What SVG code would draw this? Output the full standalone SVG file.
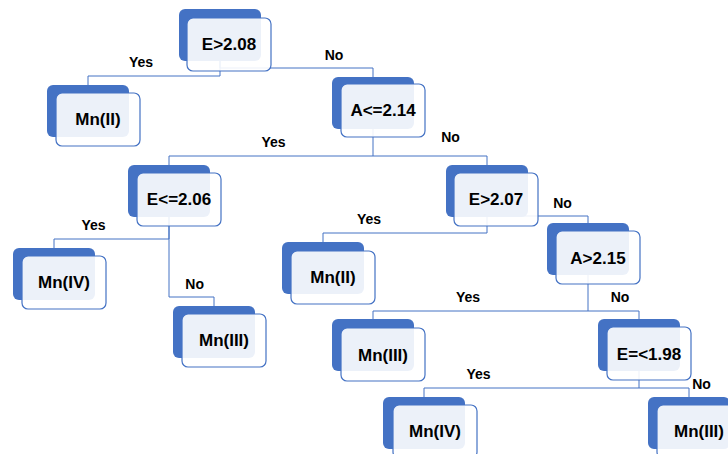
<svg xmlns="http://www.w3.org/2000/svg" width="728" height="454" viewBox="0 0 728 454">
<style>
.back{fill:#4472C4}
.front{fill:#fff;fill-opacity:0.9;stroke:#4472C4;stroke-width:1.2}
.t{font-family:"Liberation Sans",Arial,sans-serif;font-weight:bold;font-size:17px;fill:#000;text-anchor:middle}
.l{font-family:"Liberation Sans",Arial,sans-serif;font-weight:bold;font-size:14px;fill:#000;text-anchor:middle}
.c{fill:none;stroke:#4472C4;stroke-width:1}
</style>
<rect width="728" height="454" fill="#fff"/>
<g id="connectors">
<path class="c" d="M220 61V76H88V85"/>
<path class="c" d="M220 61V68H373V77"/>
<path class="c" d="M373 129V156H169V165M373 156H487V165"/>
<path class="c" d="M169 217V239H54V248"/>
<path class="c" d="M169 217V297H214V306"/>
<path class="c" d="M487 217V233H323V242"/>
<path class="c" d="M487 216H588V223"/>
<path class="c" d="M588 275V311H373V319M588 311H639V319"/>
<path class="c" d="M639 371V388H424V397M639 388H689V397"/>
</g>
<g id="labels">
<text class="l" x="141" y="67">Yes</text>
<text class="l" x="334" y="60">No</text>
<text class="l" x="273.5" y="147">Yes</text>
<text class="l" x="450.5" y="142">No</text>
<text class="l" x="93.5" y="230">Yes</text>
<text class="l" x="194.7" y="289">No</text>
<text class="l" x="369" y="224">Yes</text>
<text class="l" x="562.5" y="208">No</text>
<text class="l" x="468" y="302">Yes</text>
<text class="l" x="620" y="302">No</text>
<text class="l" x="478.5" y="379">Yes</text>
<text class="l" x="701.5" y="389">No</text>
</g>
<g id="n1"><rect class="back" x="179" y="9" width="82" height="52" rx="6"/><rect class="front" x="187" y="18" width="84" height="53" rx="6"/><text class="t" x="229" y="50">E&gt;2.08</text></g>
<g id="n2"><rect class="back" x="47" y="85" width="82" height="52" rx="6"/><rect class="front" x="56" y="93" width="84" height="53" rx="6"/><text class="t" x="98" y="125">Mn(II)</text></g>
<g id="n3"><rect class="back" x="332" y="77" width="82" height="52" rx="6"/><rect class="front" x="341" y="84" width="84" height="53" rx="6"/><text class="t" x="383" y="116">A&lt;=2.14</text></g>
<g id="n4"><rect class="back" x="128" y="165" width="82" height="52" rx="6"/><rect class="front" x="137" y="173" width="84" height="53" rx="6"/><text class="t" x="179" y="205">E&lt;=2.06</text></g>
<g id="n5"><rect class="back" x="13" y="248" width="82" height="52" rx="6"/><rect class="front" x="22" y="256" width="84" height="53" rx="6"/><text class="t" x="64" y="288">Mn(IV)</text></g>
<g id="n6"><rect class="back" x="173" y="306" width="82" height="52" rx="6"/><rect class="front" x="182" y="314" width="84" height="53" rx="6"/><text class="t" x="224" y="346">Mn(III)</text></g>
<g id="n7"><rect class="back" x="446" y="165" width="82" height="52" rx="6"/><rect class="front" x="454" y="173" width="84" height="53" rx="6"/><text class="t" x="496" y="205">E&gt;2.07</text></g>
<g id="n8"><rect class="back" x="282" y="242" width="82" height="52" rx="6"/><rect class="front" x="291" y="251" width="84" height="53" rx="6"/><text class="t" x="333" y="283">Mn(II)</text></g>
<g id="n9"><rect class="back" x="547" y="223" width="82" height="52" rx="6"/><rect class="front" x="556" y="231" width="84" height="53" rx="6"/><text class="t" x="598" y="264">A&gt;2.15</text></g>
<g id="n10"><rect class="back" x="332" y="319" width="82" height="52" rx="6"/><rect class="front" x="341" y="328" width="84" height="53" rx="6"/><text class="t" x="383" y="361">Mn(III)</text></g>
<g id="n11"><rect class="back" x="598" y="319" width="82" height="52" rx="6"/><rect class="front" x="607" y="327" width="84" height="53" rx="6"/><text class="t" x="649" y="360">E=&lt;1.98</text></g>
<g id="n12"><rect class="back" x="383" y="397" width="82" height="52" rx="6"/><rect class="front" x="393" y="405" width="84" height="53" rx="6"/><text class="t" x="435" y="437">Mn(IV)</text></g>
<g id="n13"><rect class="back" x="648" y="397" width="82" height="52" rx="6"/><rect class="front" x="657" y="405" width="84" height="53" rx="6"/><text class="t" x="699" y="437">Mn(III)</text></g>
</svg>
